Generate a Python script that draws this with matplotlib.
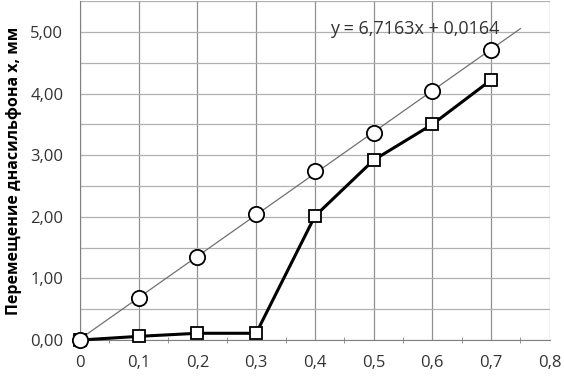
import matplotlib
matplotlib.use("Agg")
import matplotlib.pyplot as plt
import numpy as np
from matplotlib.ticker import FuncFormatter, MultipleLocator

x = [0, 0.1, 0.2, 0.3, 0.4, 0.5, 0.6, 0.7]
circles = [0, 0.68, 1.35, 2.05, 2.74, 3.36, 4.04, 4.71]
squares = [0, 0.06, 0.11, 0.11, 2.01, 2.92, 3.50, 4.22]
slope, intercept = 6.7163, 0.0164
trend_x = [0, 0.75]
eq_text = "y = 6,7163x + 0,0164"
ylabel = "Перемещение днасильфона х, мм"

plt.rcParams['font.family'] = ['Open Sans', 'DejaVu Sans']
fig = plt.figure(figsize=(5.64, 3.77), dpi=100)
ax = fig.add_axes([0.1418, 0.098, 0.833, 0.899])

tx = np.array(trend_x)
ax.plot(tx, slope * tx + intercept, color='#707070', lw=0.9, zorder=2)
ax.plot(x, circles, ls='none', marker='o', ms=11, mfc='white', mec='black', mew=1.3, zorder=4, clip_on=False)
ax.plot(x, squares, color='black', lw=2.2, marker='s', ms=8.5, mfc='white', mec='black', mew=1.3, zorder=3, clip_on=False)

ax.set_xlim(0, 0.8)
ax.set_ylim(0, 5.5)
ax.xaxis.set_major_locator(MultipleLocator(0.1))
ax.xaxis.set_minor_locator(MultipleLocator(0.05))
ax.yaxis.set_major_locator(MultipleLocator(1.0))
ax.yaxis.set_minor_locator(MultipleLocator(0.5))
ax.grid(True, which='major', axis='x', color='#909090', lw=0.9)
ax.grid(True, which='both', axis='y', color='#b0b0b0', lw=0.9)

def fx(v, p):
    if abs(v) < 1e-9:
        return "0"
    return ("%.1f" % v).replace('.', ',')
def fy(v, p):
    return ("%.2f" % v).replace('.', ',')
ax.xaxis.set_major_formatter(FuncFormatter(fx))
ax.yaxis.set_major_formatter(FuncFormatter(fy))

for s in ['top', 'right']:
    ax.spines[s].set_visible(False)
for s in ['left', 'bottom']:
    ax.spines[s].set_color('#808080')
ax.tick_params(axis='x', which='major', length=0, pad=11, labelsize=12, colors='#333333')
ax.tick_params(axis='x', which='minor', length=4, direction='inout', color='#808080')
ax.tick_params(axis='y', which='both', length=0, pad=12, labelsize=12, colors='#333333')
for lab in ax.get_xticklabels() + ax.get_yticklabels():
    lab.set_color('#333333')

ax.set_ylabel(ylabel, fontsize=11.5, fontweight='bold', labelpad=6)
ax.text(0.425, 5.05, eq_text, fontsize=13, color='#333333', ha='left', va='center', zorder=5)

fig.savefig("out.png", dpi=100)
